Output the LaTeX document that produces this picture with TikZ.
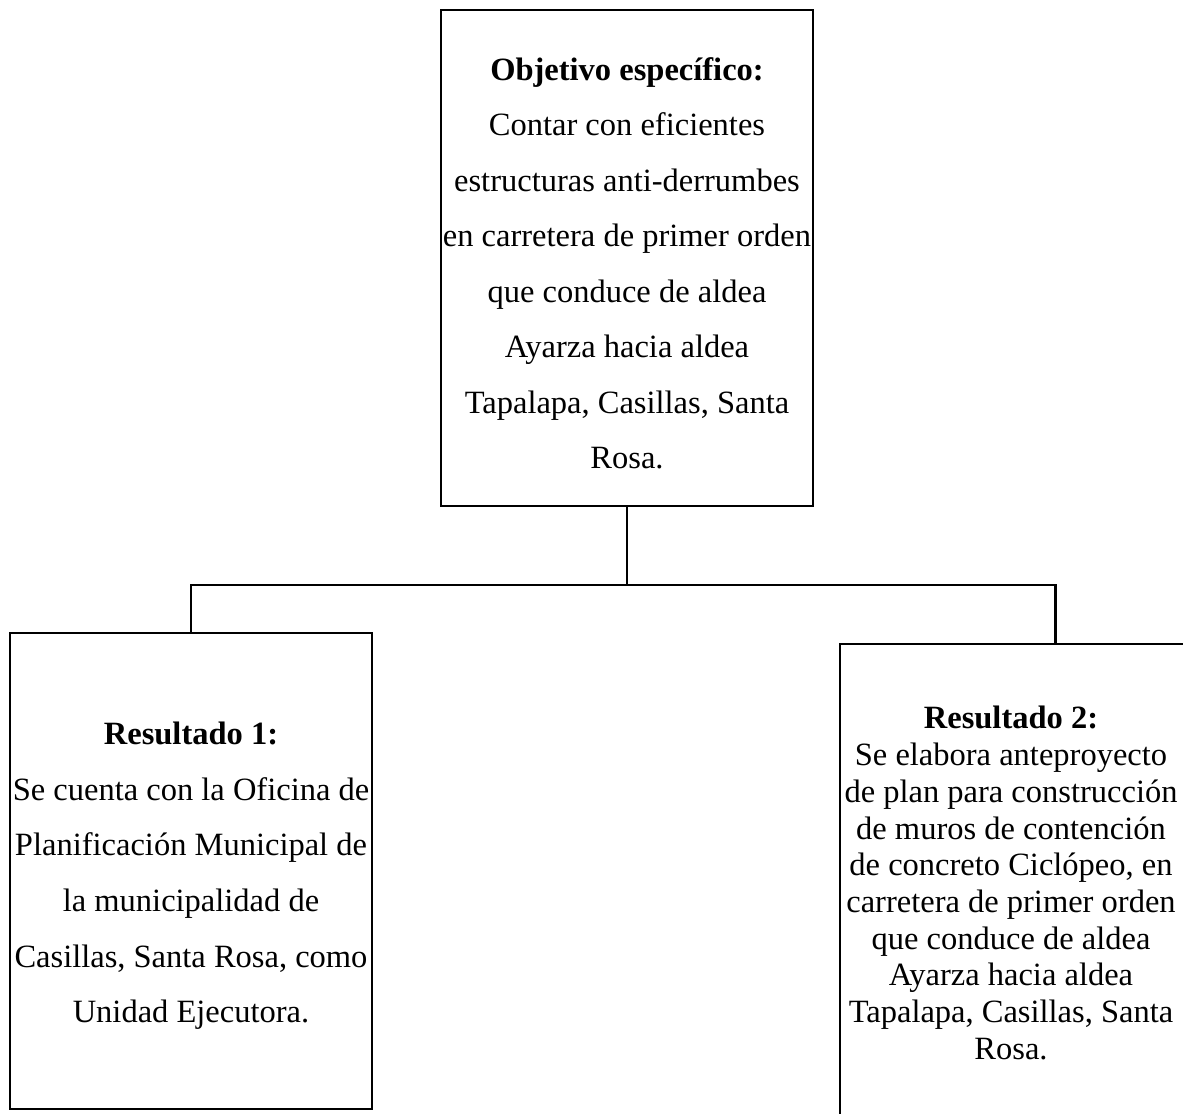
\documentclass[tikz,border=0pt]{standalone}
\usepackage{fontspec}
\setmainfont{Liberation Serif}
\usetikzlibrary{positioning}
\tikzset{
  caja/.style={draw, line width=0.05cm, inner sep=0pt},
  rama/.style={line width=0.05cm},
  texto/.style={align=center, inner sep=0pt, anchor=north, font=\fontsize{18.5}{31.6}\selectfont},
  textojunto/.style={texto, font=\fontsize{18.5}{20.9}\selectfont}
}
\begin{document}
\begin{tikzpicture}[x=0.02cm,y=-0.02cm]
\useasboundingbox (0,0) rectangle (1183,1113);
\clip (0,0) rectangle (1183,1113);
% cajas
\node[caja, minimum width=7.44cm, minimum height=9.92cm] (obj) at (627,258) {};
\node[caja, minimum width=7.24cm, minimum height=9.52cm] (res1) at (191,871) {};
\node[caja, minimum width=6.9cm, minimum height=9.58cm] (res2) at (1012.5,883.5) {};
% textos
\node[texto] (objtxt) at (627,57) {\textbf{Objetivo específico:}\\Contar con eficientes\\estructuras anti-derrumbes\\en carretera de primer orden\\que conduce de aldea\\Ayarza hacia aldea\\Tapalapa, Casillas, Santa\\Rosa.};
\node[texto] (res1txt) at (191,722) {\textbf{Resultado 1:}\\Se cuenta con la Oficina de\\Planificación Municipal de\\la municipalidad de\\Casillas, Santa Rosa, como\\Unidad Ejecutora.};
\node[textojunto] (res2txt) at (1011,706) {\textbf{Resultado 2:}\\Se elabora anteproyecto\\de plan para construcción\\de muros de contención\\de concreto Ciclópeo, en\\carretera de primer orden\\que conduce de aldea\\Ayarza hacia aldea\\Tapalapa, Casillas, Santa\\Rosa.};
% ramas
\coordinate (bifur) at (627,585);
\draw[rama] (obj.south) -- (bifur);
\draw[rama] (bifur) -| (res1.north);
\draw[rama] (bifur) -| ([xshift=0.86cm]res2.north);
\end{tikzpicture}
\end{document}
